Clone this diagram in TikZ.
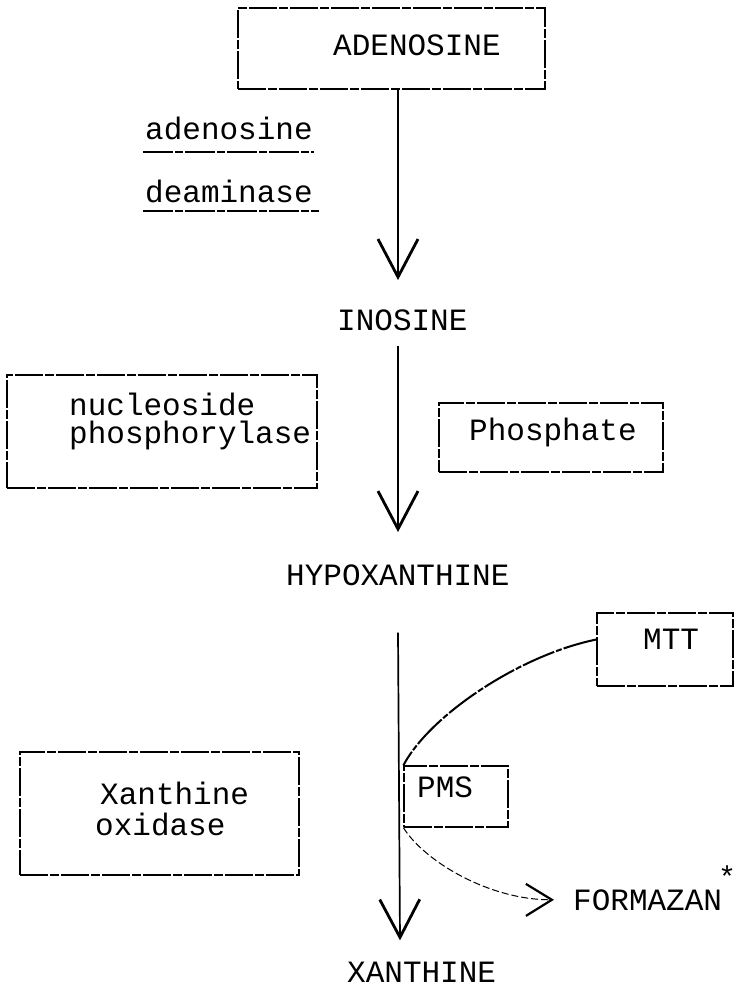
\documentclass[tikz,border=0pt]{standalone}
\usepackage{fontspec}
\newfontfamily\tw{Liberation Mono}
\usetikzlibrary{arrows.meta,calc}
\begin{document}
\begin{tikzpicture}[x=1pt,y=-1pt,
  txt/.style={font=\tw\fontsize{31}{30}\selectfont, inner sep=0pt, anchor=base west},
  box/.style={draw, line width=1.3pt, dash pattern=on 28pt off 2pt on 9pt off 2pt, inner sep=0pt},
  arr/.style={line width=1.7pt, -{Straight Barb[length=38pt,width=40pt,line width=2.8pt]}},
  uline/.style={line width=1.2pt, dash pattern=on 30pt off 2pt on 8pt off 2pt},
  mttcurve/.style={line width=2pt, dash pattern=on 34pt off 2pt on 6pt off 2pt},
  fcurve/.style={line width=1pt, dash pattern=on 7pt off 3pt, -{Straight Barb[length=26pt,width=32pt,line width=2.2pt]}},
]
\useasboundingbox (0,0) rectangle (737,988);
\coordinate (sp) at (398,0);

% boxes
\node[box, minimum width=307pt, minimum height=81pt] (adebox) at (391.5,48.5) {};
\node[box, minimum width=310pt, minimum height=113pt] (nucbox) at (162,431.5) {};
\node[box, minimum width=224pt, minimum height=69pt] (phbox) at (551,437.5) {};
\node[box, minimum width=136pt, minimum height=73pt] (mttbox) at (665,649.5) {};
\node[box, minimum width=104pt, minimum height=61pt] (pmsbox) at (456,796.5) {};
\node[box, minimum width=279pt, minimum height=123pt] (xobox) at (159.5,813.5) {};

% texts
\node[txt] (ade) at (333,55) {ADENOSINE};
\node[txt] (adn) at (145,139) {adenosine};
\node[txt] (dea) at (145,202) {deaminase};
\node[txt] (ino) at (337,330) {INOSINE};
\node[txt] (nuc1) at (69,415) {nucleoside};
\node[txt] (nuc2) at (69,443) {phosphorylase};
\node[txt] (pho) at (469,440) {Phosphate};
\node[txt] (hypo) at (286,585) {HYPOXANTHINE};
\node[txt] (mtt) at (643,649) {MTT};
\node[txt] (pms) at (417,797) {PMS};
\node[txt] (xo1) at (100,804) {Xanthine};
\node[txt] (xo2) at (95,835) {oxidase};
\node[txt] (form) at (573,910) {FORMAZAN};
\node[font=\tw\fontsize{30}{30}\selectfont, inner sep=0pt] (ast) at (727,877) {*};
\node[txt] (xan) at (347,982) {XANTHINE};

% underlines
\draw[uline] ($(adn.base west)+(-2,13)$) -- ($(adn.base east)+(1,13)$);
\draw[uline] ($(dea.base west)+(-2,9)$) -- ($(dea.base east)+(6,9)$);

% main arrows
\draw[arr] (adebox.south -| sp) -- ($(ino.north -| sp)+(0,-29)$);
\draw[arr] ($(ino.south -| sp)+(0,15)$) -- ($(hypo.north -| sp)+(0,-32)$);
\draw[arr] ($(hypo.south -| sp)+(0,47)$) -- ($(xan.north -| sp)+(2,-21)$);

% side curves
\draw[mttcurve] ([yshift=10pt]mttbox.west) .. controls (520,655) and (430,715) .. (pmsbox.north west);
\draw[fcurve] (pmsbox.south west) .. controls (425,862) and (490,900) .. ([xshift=-19pt]form.west);
\end{tikzpicture}
\end{document}
